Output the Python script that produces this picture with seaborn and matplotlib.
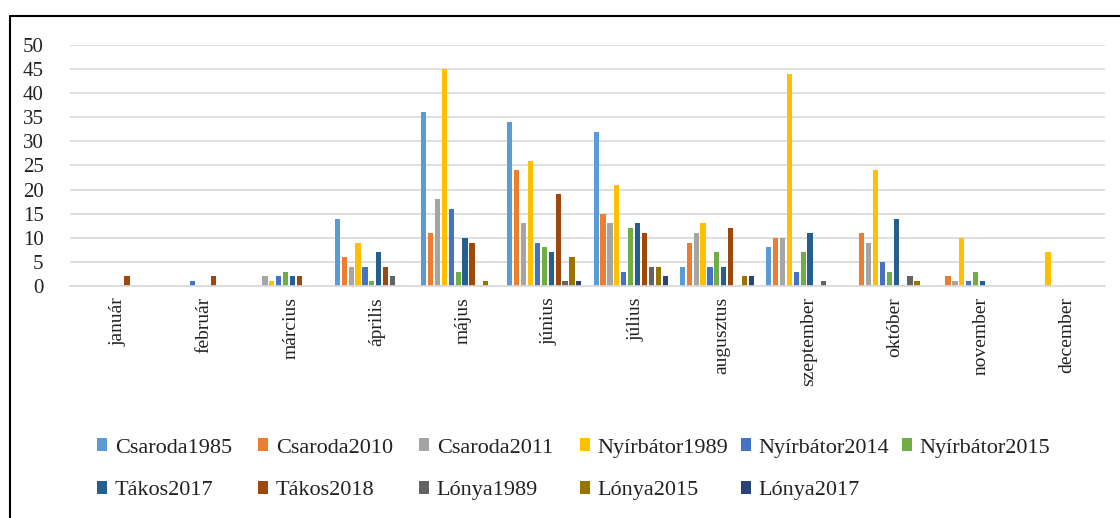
import matplotlib
matplotlib.use("Agg")
import matplotlib.pyplot as plt
import matplotlib.transforms as mtransforms
import seaborn as sns
import pandas as pd
from matplotlib.lines import Line2D

months = ["január", "február", "március", "április", "május", "június",
          "július", "augusztus", "szeptember", "október", "november", "december"]

Csaroda1985 = [0, 0, 0, 14, 36, 34, 32, 4, 8, 0, 0, 0]
Csaroda2010 = [0, 0, 0, 6, 11, 24, 15, 9, 10, 11, 2, 0]
Csaroda2011 = [0, 0, 2, 4, 18, 13, 13, 11, 10, 9, 1, 0]
Nyirbator1989 = [0, 0, 1, 9, 45, 26, 21, 13, 44, 24, 10, 7]
Nyirbator2014 = [0, 1, 2, 4, 16, 9, 3, 4, 3, 5, 1, 0]
Nyirbator2015 = [0, 0, 3, 1, 3, 8, 12, 7, 7, 3, 3, 0]
Takos2017 = [0, 0, 2, 7, 10, 7, 13, 4, 11, 14, 1, 0]
Takos2018 = [2, 2, 2, 4, 9, 19, 11, 12, 0, 0, 0, 0]
Lonya1989 = [0, 0, 0, 2, 0, 1, 4, 0, 1, 2, 0, 0]
Lonya2015 = [0, 0, 0, 0, 1, 6, 4, 2, 0, 1, 0, 0]
Lonya2017 = [0, 0, 0, 0, 0, 1, 2, 2, 0, 0, 0, 0]

series_names = ["Csaroda1985", "Csaroda2010", "Csaroda2011", "Nyírbátor1989",
                "Nyírbátor2014", "Nyírbátor2015", "Tákos2017", "Tákos2018",
                "Lónya1989", "Lónya2015", "Lónya2017"]
series_values = [Csaroda1985, Csaroda2010, Csaroda2011, Nyirbator1989,
                 Nyirbator2014, Nyirbator2015, Takos2017, Takos2018,
                 Lonya1989, Lonya2015, Lonya2017]
colors = ["#5B9BD5", "#ED7D31", "#A5A5A5", "#FFC000", "#4472C4", "#70AD47",
          "#255E91", "#9E480E", "#636363", "#997300", "#264478"]

rows = []
for name, vals in zip(series_names, series_values):
    for m, v in zip(months, vals):
        rows.append({"month": m, "value": v, "series": name})
df = pd.DataFrame(rows)

sns.set_theme(style="white")
plt.rcParams["font.family"] = ["Liberation Serif", "DejaVu Serif"]
text_color = "#222222"

fig = plt.figure(figsize=(11.2, 5.18), dpi=100)
ax = fig.add_axes([70 / 1120, 1 - 286 / 518, 1035 / 1120, 241 / 518])

sns.barplot(data=df, x="month", y="value", hue="series", order=months,
            hue_order=series_names, palette=colors, width=0.88, gap=0.25,
            saturation=1, linewidth=0, ax=ax, legend=True)

ax.set_ylim(0, 50)
ax.set_yticks(range(0, 51, 5))
ax.set_xlim(-0.5, 11.5)
ax.grid(axis="y", color="#D9D9D9", linewidth=1.2)
ax.set_axisbelow(True)
for s in ["top", "right", "left"]:
    ax.spines[s].set_visible(False)
ax.spines["bottom"].set_color("#D9D9D9")
ax.spines["bottom"].set_linewidth(1.2)
ax.set_xlabel("")
ax.set_ylabel("")
ax.tick_params(axis="y", length=0, pad=19, labelsize=15, labelcolor=text_color)
ax.tick_params(axis="x", length=0, pad=8, labelsize=14, labelcolor=text_color)
offset = mtransforms.ScaledTranslation(5 / 100, 0, fig.dpi_scale_trans)
for lab in ax.get_xticklabels():
    lab.set_rotation(90)
    lab.set_va("top")
    lab.set_ha("center")
    lab.set_transform(lab.get_transform() + offset)

# legend: 6 equally spaced columns, row-major order
handles, labels = ax.get_legend_handles_labels()
ax.get_legend().remove()
ncol = 6
col_x0 = 97
col_pitch = 161
for c in range(ncol):
    idx = [i for i in range(len(labels)) if i % ncol == c]
    lg = fig.legend([handles[i] for i in idx], [labels[i] for i in idx],
                    loc="upper left",
                    bbox_to_anchor=(col_x0 / 1120 + c * col_pitch / 1120, 1 - 438 / 518),
                    frameon=False, fontsize=16, handlelength=0.45, handleheight=0.55,
                    handletextpad=0.35, labelspacing=1.05,
                    borderaxespad=0, borderpad=0)
    for t in lg.get_texts():
        t.set_color(text_color)

# outer chart border (top and left edges visible)
fig.add_artist(Line2D([10 / 1120, 1.0], [1 - 16 / 518, 1 - 16 / 518],
                      transform=fig.transFigure, color="black", linewidth=1.5))
fig.add_artist(Line2D([10 / 1120, 10 / 1120], [0, 1 - 16 / 518],
                      transform=fig.transFigure, color="black", linewidth=1.5))

fig.savefig("out.png", dpi=100)
